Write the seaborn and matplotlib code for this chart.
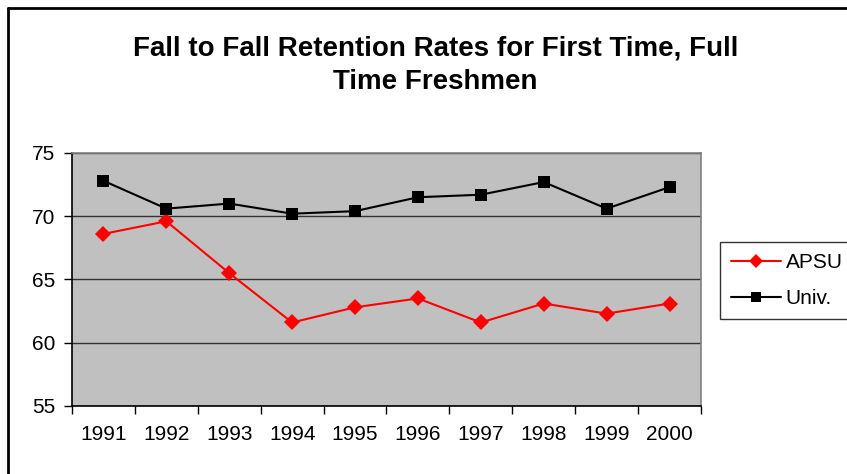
import pandas as pd
import seaborn as sns
import matplotlib
import matplotlib.pyplot as plt
from matplotlib.lines import Line2D

matplotlib.use('Agg')

years = [1991, 1992, 1993, 1994, 1995, 1996, 1997, 1998, 1999, 2000]
apsu = [68.6, 69.6, 65.5, 61.6, 62.8, 63.5, 61.6, 63.1, 62.3, 63.1]
univ = [72.8, 70.6, 71.0, 70.2, 70.4, 71.5, 71.7, 72.7, 70.6, 72.3]
series_names = ['APSU', 'Univ.']
y_ticks = [55, 60, 65, 70, 75]

df = pd.DataFrame({
    'year': years * 2,
    'rate': apsu + univ,
    'group': [series_names[0]] * len(years) + [series_names[1]] * len(years),
})

sns.set_style('white')
plt.rcParams['font.family'] = ['Liberation Sans', 'DejaVu Sans']
plt.rcParams['text.color'] = 'black'
plt.rcParams['xtick.color'] = 'black'
plt.rcParams['ytick.color'] = 'black'

fig = plt.figure(figsize=(8.47, 4.74), dpi=100)
ax = fig.add_axes([0.085, 0.1435, 0.7426, 0.5338])
ax.set_facecolor('#c0c0c0')

sns.lineplot(data=df, x='year', y='rate', hue='group', style='group',
             palette={'APSU': '#ff0000', 'Univ.': '#000000'},
             markers={'APSU': 'D', 'Univ.': 's'}, dashes=False,
             markersize=8, linewidth=1.5, markeredgewidth=0,
             ax=ax, legend=False)

ax.set_xlim(1990.5, 2000.5)
ax.set_ylim(55, 75)
ax.set_yticks(y_ticks)
ax.set_xticks(years)
ax.set_xticks([y + 0.5 for y in [1990] + years], minor=True)
ax.tick_params(axis='x', which='major', bottom=True, length=0, pad=14, labelsize=15)
ax.tick_params(axis='x', which='minor', bottom=True, length=6, width=1, direction='out')
ax.tick_params(axis='y', left=True, length=6, width=1, direction='out', pad=6, labelsize=15)
ax.set_xlabel('')
ax.set_ylabel('')
ax.yaxis.grid(True, color='#333333', linewidth=1)
ax.set_axisbelow(True)

for side in ['top', 'right']:
    ax.spines[side].set_color('#808080')
    ax.spines[side].set_linewidth(1.2)
for side in ['left', 'bottom']:
    ax.spines[side].set_color('black')
    ax.spines[side].set_linewidth(1.2)

handles = [
    Line2D([], [], color='#ff0000', marker='D', markersize=7, markeredgewidth=0, linewidth=1.5),
    Line2D([], [], color='#000000', marker='s', markersize=7, markeredgewidth=0, linewidth=1.5),
]
leg = fig.legend(handles, series_names, loc='upper left', bbox_to_anchor=(0.85, 0.49),
                 frameon=True, fancybox=False, fontsize=15, handlelength=2.4,
                 handletextpad=0.2, borderpad=0.55, borderaxespad=0, labelspacing=0.8)
leg.get_frame().set_edgecolor('black')
leg.get_frame().set_linewidth(1)

fig.text(0.514, 0.862, 'Fall to Fall Retention Rates for First Time, Full\nTime Freshmen',
         ha='center', va='center', fontsize=20, fontweight='bold', linespacing=1.4)

# outer chart border (only left and top show in the crop)
fig.add_artist(Line2D([8 / 847, 8 / 847], [0, 1 - 8 / 474], transform=fig.transFigure,
                      color='black', linewidth=2))
fig.add_artist(Line2D([8 / 847, 1], [1 - 8 / 474, 1 - 8 / 474], transform=fig.transFigure,
                      color='black', linewidth=2))

fig.savefig('out.png', dpi=100)
